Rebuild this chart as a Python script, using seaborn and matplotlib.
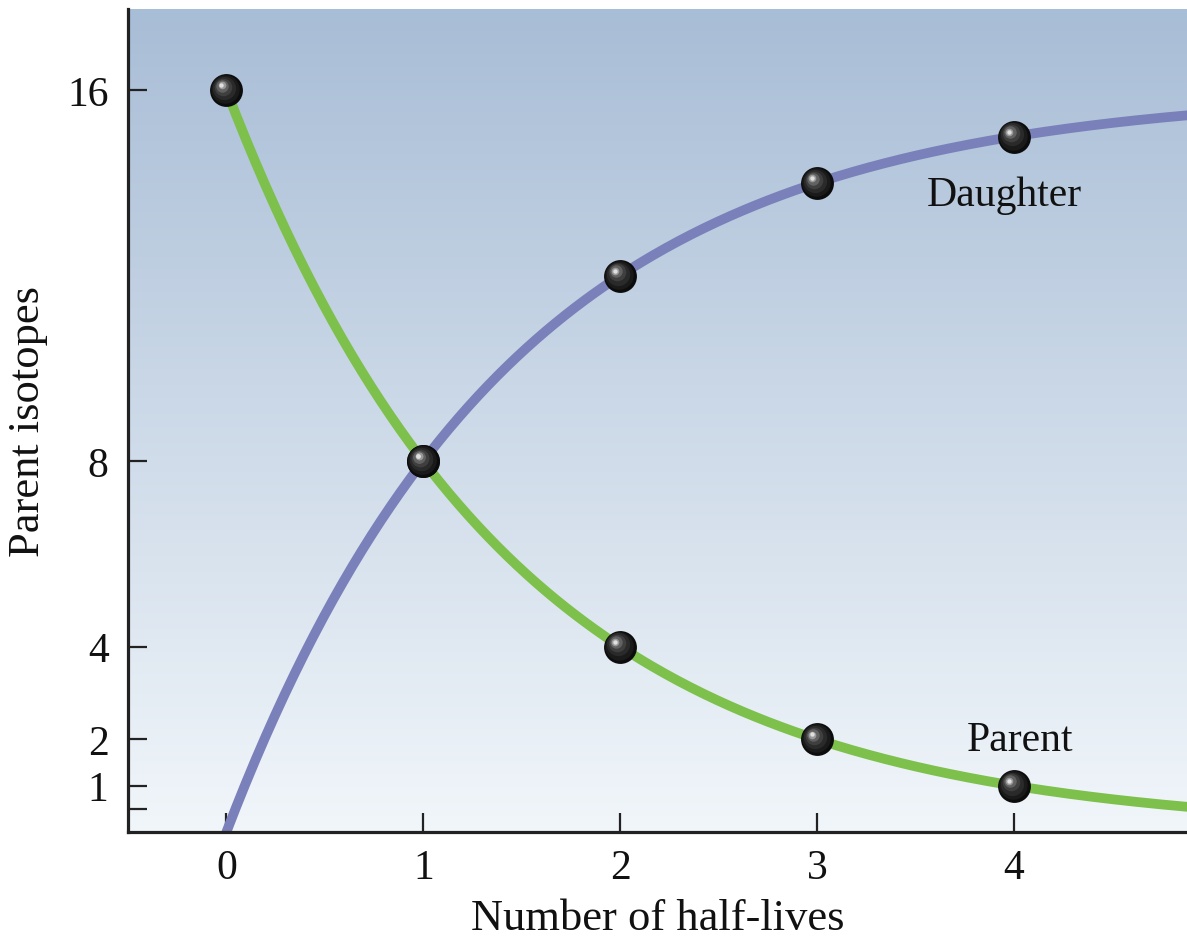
import numpy as np
import pandas as pd
import matplotlib
matplotlib.use("Agg")
import matplotlib.pyplot as plt
import matplotlib.transforms as mtransforms
import seaborn as sns

# Values
half_lives = [0, 1, 2, 3, 4]
parent_dots = [16, 8, 4, 2, 1]
daughter_dot_x = [1, 2, 3, 4]
daughter_dot_y = [8, 12, 14, 15]
y_ticks = [0.5, 1, 2, 4, 8, 16]
y_tick_labels = ["", "1", "2", "4", "8", "16"]
x_ticks = [0, 1, 2, 3, 4]

# smooth decay curve between the dots (half-life law, start = 16)
start_amount = parent_dots[0]
t = np.linspace(0, 4.9, 300)
curves = pd.DataFrame({
    "t": t,
    "Parent": start_amount * 0.5 ** t,
    "Daughter": start_amount - start_amount * 0.5 ** t,
})

sns.set_style("white")
plt.rcParams["font.family"] = ["Liberation Serif", "DejaVu Serif"]

fig = plt.figure(figsize=(11.87, 9.37), dpi=100)
ax = fig.add_axes([128 / 1187, 104 / 937, 1 - 128 / 1187, (833 - 10) / 937])

xmin, xmax, ymin, ymax = -0.5, 4.88, 0, 17.75

# background gradient: blue-grey at top fading to near white
top = np.array([168, 189, 214]) / 255
bot = np.array([241, 246, 250]) / 255
frac = np.linspace(0, 1, 256)[:, None]
grad = top * (1 - frac) + bot * frac
ax.imshow(grad[:, None, :].repeat(2, axis=1), extent=[xmin, xmax, ymin, ymax],
          aspect="auto", origin="upper", zorder=0)

sns.lineplot(data=curves, x="t", y="Daughter", color="#7a80b9", linewidth=7,
             ax=ax, zorder=2)
sns.lineplot(data=curves, x="t", y="Parent", color="#7dc04b", linewidth=7,
             ax=ax, zorder=3)

# shiny black balls
dots = pd.DataFrame({"x": half_lives + daughter_dot_x,
                     "y": parent_dots + daughter_dot_y})
layers = [(560, "#0c0c0c", 0, 0), (420, "#1a1a1a", -0.7, 0.7),
          (280, "#2a2a2a", -1.5, 1.5), (160, "#3f3f3f", -2.3, 2.3),
          (80, "#626262", -3.0, 3.0), (30, "#9a9a9a", -3.4, 3.4),
          (10, "#e0e0e0", -3.6, 3.6)]
for size, col, dx, dy in layers:
    off = mtransforms.offset_copy(ax.transData, fig=fig, x=dx, y=dy, units="points")
    sns.scatterplot(data=dots, x="x", y="y", s=size, color=col, linewidth=0,
                    ax=ax, zorder=5, transform=off, legend=False)

ax.set_xlim(xmin, xmax)
ax.set_ylim(ymin, ymax)

ax.set_xticks(x_ticks)
ax.set_xticklabels([str(v) for v in x_ticks])
ax.set_yticks(y_ticks)
ax.set_yticklabels(y_tick_labels)
ax.tick_params(axis="both", direction="in", length=14, width=1.6, color="#222222",
               labelsize=30, labelcolor="#111111", bottom=True, left=True)
ax.tick_params(axis="y", pad=14)
ax.tick_params(axis="x", pad=12)

for side in ["top", "right"]:
    ax.spines[side].set_visible(False)
for side in ["left", "bottom"]:
    ax.spines[side].set_linewidth(2.3)
    ax.spines[side].set_color("#222222")

ax.set_xlabel("Number of half-lives", fontsize=32, color="#111111", labelpad=8)
ax.set_ylabel("Parent isotopes", fontsize=32, color="#111111", labelpad=14)

ax.text(3.95, 13.75, "Daughter", fontsize=30, ha="center", va="center",
        color="#111111", zorder=6)
ax.text(4.03, 2.0, "Parent", fontsize=30, ha="center", va="center",
        color="#111111", zorder=6)

fig.savefig("out.png", dpi=100)
